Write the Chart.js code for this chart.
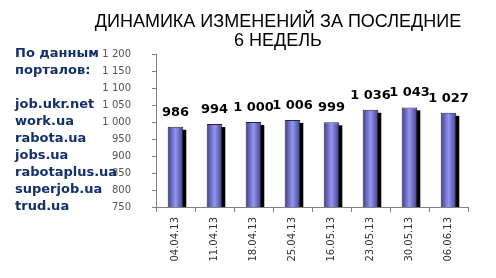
<!DOCTYPE html>
<html>
<head>
<meta charset="utf-8">
<script src="https://cdn.jsdelivr.net/npm/chart.js@4"></script>
<style>
  html, body { margin: 0; padding: 0; background: #fff; }
</style>
</head>
<body>
<canvas id="myChart" width="496" height="278"></canvas>
<script>
const dates = ['04.04.13', '11.04.13', '18.04.13', '25.04.13', '16.05.13', '23.05.13', '30.05.13', '06.06.13'];
const vacancies = [986, 994, 1000, 1006, 999, 1036, 1043, 1027];
const yMin = 750;
const yMax = 1200;
const yStep = 50;
const titleLines = ['ДИНАМИКА ИЗМЕНЕНИЙ ЗА ПОСЛЕДНИЕ', '6 НЕДЕЛЬ'];
const sourceLines = ['По данным', 'порталов:', '', 'job.ukr.net', 'work.ua', 'rabota.ua', 'jobs.ua', 'rabotaplus.ua', 'superjob.ua', 'trud.ua'];

const textBlue = '#14306b';
const axisGray = '#808080';

// 1 200 style numbers
function fmt(v) {
  return String(v).replace(/\B(?=(\d{3})+(?!\d))/g, ' ');
}

function barFill(c) {
  const chart = c.chart;
  if (!chart.chartArea) return '#6a6ac8';
  const x = chart.scales.x.getPixelForValue(c.dataIndex);
  const g = chart.ctx.createLinearGradient(x - 8, 0, x + 8, 0);
  g.addColorStop(0, '#3e3e7e');
  g.addColorStop(0.5, '#9494f4');
  g.addColorStop(1, '#3e3e7e');
  return g;
}

const extras = {
  id: 'extras',
  beforeDatasetsDraw(chart) {
    // black shadow to the right of each bar
    const ctx = chart.ctx;
    const bottom = chart.scales.y.getPixelForValue(yMin);
    ctx.save();
    ctx.fillStyle = '#000';
    chart.getDatasetMeta(0).data.forEach((bar) => {
      const top = bar.y + 3;
      ctx.fillRect(bar.x - bar.width / 2 + 3, top, bar.width, bottom - top);
    });
    ctx.restore();
  },
  afterDatasetsDraw(chart) {
    const ctx = chart.ctx;
    ctx.save();
    ctx.font = 'bold 13px Verdana, "DejaVu Sans", sans-serif';
    ctx.fillStyle = '#000';
    ctx.textAlign = 'center';
    ctx.textBaseline = 'bottom';
    chart.getDatasetMeta(0).data.forEach((bar, i) => {
      ctx.fillText(fmt(vacancies[i]), bar.x, bar.y - 8);
    });
    ctx.restore();
  },
  afterDraw(chart) {
    const ctx = chart.ctx;
    const xs = chart.scales.x;
    const ys = chart.scales.y;
    const area = chart.chartArea;
    ctx.save();
    // small outside tick marks
    ctx.strokeStyle = axisGray;
    ctx.lineWidth = 1;
    ctx.beginPath();
    for (let v = yMin; v <= yMax; v += yStep) {
      const py = Math.round(ys.getPixelForValue(v)) + 0.5;
      ctx.moveTo(area.left - 4, py);
      ctx.lineTo(area.left, py);
    }
    const cw = (area.right - area.left) / dates.length;
    for (let i = 0; i <= dates.length; i++) {
      const px = Math.round(xs.getPixelForValue(i) - cw / 2) + 0.5;
      ctx.moveTo(px, area.bottom);
      ctx.lineTo(px, area.bottom + 5);
    }
    ctx.stroke();

    ctx.fillStyle = '#000';
    ctx.font = '18px Arial, "Liberation Sans", sans-serif';
    ctx.textAlign = 'center';
    ctx.textBaseline = 'alphabetic';
    ctx.fillText(titleLines[0], 278, 27);
    ctx.fillText(titleLines[1], 278, 46);

    ctx.fillStyle = textBlue;
    ctx.font = 'bold 13px Verdana, "DejaVu Sans", sans-serif';
    ctx.textAlign = 'left';
    ctx.textBaseline = 'middle';
    sourceLines.forEach((s, i) => {
      if (s) ctx.fillText(s, 15, ys.getPixelForValue(yMax - i * yStep));
    });
    ctx.restore();
  }
};

new Chart(document.getElementById('myChart'), {
  type: 'bar',
  data: {
    labels: dates,
    datasets: [{
      data: vacancies,
      backgroundColor: barFill,
      borderColor: '#24244a',
      borderWidth: 1,
      barPercentage: 0.4,
      categoryPercentage: 1
    }]
  },
  plugins: [extras],
  options: {
    responsive: false,
    animation: false,
    layout: {
      padding: { left: 0, right: 28, top: 54, bottom: 0 }
    },
    plugins: {
      legend: { display: false },
      tooltip: { enabled: false }
    },
    scales: {
      x: {
        afterFit(s) { s.height = 71; },
        grid: { color: 'rgba(0,0,0,0)', drawTicks: false },
        border: { color: axisGray },
        ticks: {
          minRotation: 90,
          maxRotation: 90,
          padding: 10,
          color: '#333',
          font: { family: 'Verdana, "DejaVu Sans", sans-serif', size: 10 }
        }
      },
      y: {
        min: yMin,
        max: yMax,
        afterFit(s) { s.width = 156; },
        grid: { color: 'rgba(0,0,0,0)', drawTicks: false },
        border: { color: axisGray },
        ticks: {
          stepSize: yStep,
          autoSkip: false,
          padding: 25,
          color: '#555',
          font: { family: 'Verdana, "DejaVu Sans", sans-serif', size: 10 },
          callback: (v) => fmt(v)
        }
      }
    }
  }
});
</script>
</body>
</html>
